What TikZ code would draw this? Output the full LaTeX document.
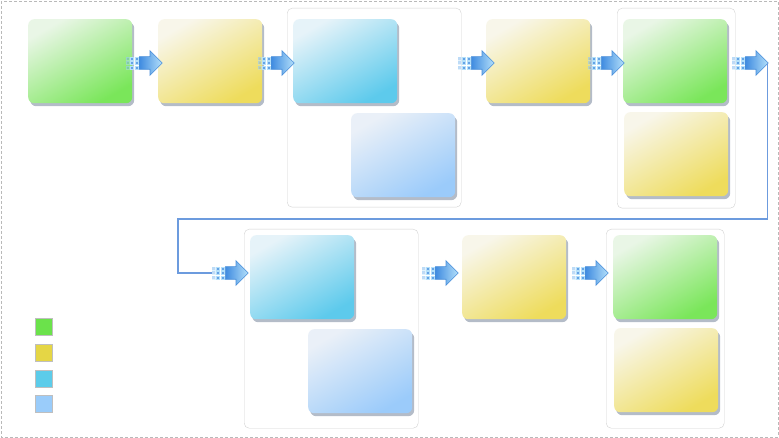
\documentclass[tikz,border=0pt]{standalone}
\usetikzlibrary{calc,shapes.arrows,shadows}
\definecolor{grnA}{HTML}{E9F6E6}
\definecolor{grnB}{HTML}{7AE65A}
\definecolor{ylwA}{HTML}{F8F6EA}
\definecolor{ylwB}{HTML}{EEDC5C}
\definecolor{cynA}{HTML}{E6F3F9}
\definecolor{cynB}{HTML}{5DCAEC}
\definecolor{bluA}{HTML}{EAF0F8}
\definecolor{bluB}{HTML}{9BCBFA}
\definecolor{keyG}{HTML}{6BE24B}
\definecolor{keyY}{HTML}{E5D645}
\definecolor{keyC}{HTML}{5CCCEA}
\definecolor{keyB}{HTML}{9ACCFA}
\definecolor{cardShade}{HTML}{B4BCC8}
\definecolor{arrDark}{HTML}{3F8BE0}
\definecolor{arrLight}{HTML}{B4E0FA}
\definecolor{arrEdge}{HTML}{4A8FDA}
\definecolor{linkBlue}{HTML}{6C9BDE}
\tikzset{
  card/.style={anchor=north west, minimum width=104pt, minimum height=84pt, inner sep=0pt,
    rounded corners=6pt, shading angle=30,
    drop shadow={shadow xshift=2pt, shadow yshift=-3pt, fill=cardShade, opacity=1}},
  greencard/.style={top color=grnA, bottom color=grnB, card},
  yellowcard/.style={top color=ylwA, bottom color=ylwB, card},
  cyancard/.style={top color=cynA, bottom color=cynB, card},
  bluecard/.style={top color=bluA, bottom color=bluB, card},
  group/.style={draw=gray!35, fill=white, rounded corners=5pt, anchor=north west, inner sep=0pt},
  flow/.style={single arrow, single arrow head extend=6pt, minimum height=23pt,
    inner xsep=0pt, inner ysep=6pt, left color=arrDark, right color=arrLight, draw=arrEdge, line width=0.6pt},
  flowdot/.style={fill=arrDark!80, draw=arrLight, line width=0.5pt},
  key/.style={draw=gray!50, minimum size=17pt, inner sep=0pt, anchor=north west},
  link/.style={draw=linkBlue, line width=1.5pt}
}
% #1 name of the arrow, #2 left end of its dots
\newcommand{\flowarrow}[2]{%
  \coordinate (#1in) at #2;
  \foreach \dx/\op in {0/0.4,4.5/1,9/1}
    \foreach \dy in {-6,-1.5,3}
      \filldraw[flowdot, opacity=\op] ($(#1in)+(\dx,\dy)$) rectangle +(3,3);
  \node[flow, anchor=west] (#1) at ($(#1in)+(13,0)$) {};
}

\begin{document}
\begin{tikzpicture}[x=1pt,y=-1pt]
\useasboundingbox (0,0) rectangle (779,438);
\draw[gray!55, dash pattern=on 3pt off 2pt] (1,1) rectangle (778,437);

% first row
\node[group, minimum width=174pt, minimum height=199pt] (grp1) at (287,8) {};
\node[group, minimum width=118pt, minimum height=200pt] (grp2) at (617,8) {};
\node[greencard] (c1) at (28,19) {};
\node[yellowcard] (c2) at (158,19) {};
\node[cyancard] (c3) at (293,19) {};
\node[bluecard] (c4) at (351,113) {};
\node[yellowcard] (c5) at (486,19) {};
\node[greencard] (c6) at (623,19) {};
\node[yellowcard] (c7) at (624,112) {};

% second row
\node[group, minimum width=174pt, minimum height=199pt] (grp3) at (244,229) {};
\node[group, minimum width=118pt, minimum height=199pt] (grp4) at (606,229) {};
\node[cyancard] (c8) at (250,235) {};
\node[bluecard] (c9) at (308,329) {};
\node[yellowcard] (c10) at (462,235) {};
\node[greencard] (c11) at (613,235) {};
\node[yellowcard] (c12) at (614,328) {};

\flowarrow{a1}{(126,63)}
\flowarrow{a2}{(258,63)}
\flowarrow{a3}{(458,63)}
\flowarrow{a4}{(588,63)}
\flowarrow{a5}{(732,63)}
\flowarrow{a6}{(212,273)}
\flowarrow{a7}{(422,273)}
\flowarrow{a8}{(572,273)}

\coordinate (bend) at (178,219);
\draw[link] ([xshift=-1pt]a5.tip) |- (bend) |- (a6in);

% legend
\node[key, fill=keyG] (kg) at (35,318) {};
\node[key, fill=keyY] (ky) at (35,344) {};
\node[key, fill=keyC] (kc) at (35,370) {};
\node[key, fill=keyB] (kb) at (35,395) {};
\end{tikzpicture}
\end{document}
